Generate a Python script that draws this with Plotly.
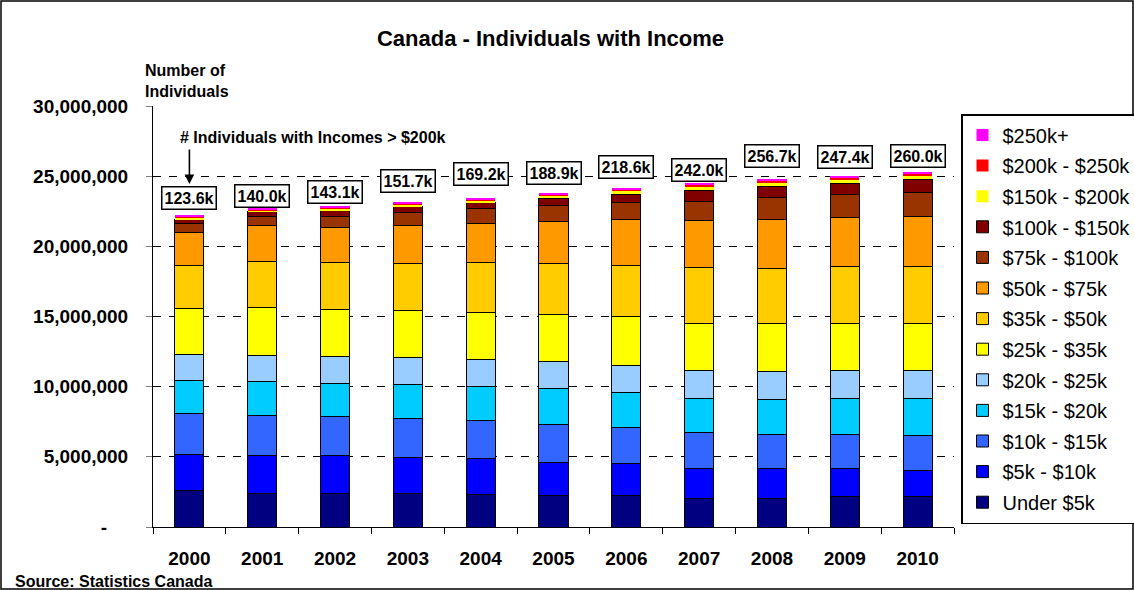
import plotly.graph_objects as go

years = ["2000", "2001", "2002", "2003", "2004", "2005", "2006", "2007", "2008", "2009", "2010"]

# Values in thousands of individuals
under_5k   = [2590, 2400, 2400, 2400, 2330, 2210, 2210, 2040, 2040, 2160, 2160]
k5_10      = [2610, 2730, 2660, 2540, 2540, 2400, 2330, 2140, 2140, 2020, 1900]
k10_15     = [2900, 2800, 2800, 2820, 2730, 2730, 2530, 2540, 2440, 2440, 2440]
k15_20     = [2370, 2470, 2370, 2430, 2440, 2540, 2520, 2440, 2470, 2540, 2660]
k20_25     = [1850, 1830, 1930, 1900, 1900, 1940, 1950, 2020, 2020, 2020, 2020]
k25_35     = [3260, 3440, 3340, 3320, 3370, 3350, 3440, 3350, 3370, 3350, 3350]
k35_50     = [3080, 3250, 3330, 3390, 3520, 3580, 3680, 3960, 3940, 4030, 4030]
k50_75     = [2340, 2540, 2540, 2700, 2820, 2990, 3230, 3350, 3490, 3520, 3590]
k75_100    = [630, 690, 760, 910, 1050, 1140, 1240, 1380, 1590, 1590, 1690]
k100_150   = [310, 310, 450, 410, 420, 560, 590, 760, 770, 830, 930]
k150_200   = [110, 120, 130, 150, 180, 200, 240, 270, 290, 280, 300]
k200_250   = [45.0, 50.5, 52.0, 55.2, 61.0, 67.5, 77.6, 85.5, 92.0, 90.8, 94.5]
k250_plus  = [78.6, 89.5, 91.1, 96.5, 108.2, 121.4, 141.0, 156.5, 164.7, 156.6, 165.5]

over_200k_labels = ["123.6k", "140.0k", "143.1k", "151.7k", "169.2k", "188.9k",
                    "218.6k", "242.0k", "256.7k", "247.4k", "260.0k"]

series_names = ["Under $5k", "$5k - $10k", "$10k - $15k", "$15k - $20k", "$20k - $25k",
                "$25k - $35k", "$35k - $50k", "$50k - $75k", "$75k - $100k",
                "$100k - $150k", "$150k - $200k", "$200k - $250k", "$250k+"]
series_values = [under_5k, k5_10, k10_15, k15_20, k20_25, k25_35, k35_50, k50_75,
                 k75_100, k100_150, k150_200, k200_250, k250_plus]

# styles
colors = ["#000080", "#0000FF", "#3366FF", "#00CCFF", "#99CCFF", "#FFFF00", "#FFCC00",
          "#FF9900", "#993300", "#800000", "#FFFF00", "#FF0000", "#FF00FF"]
outline = [1, 1, 1, 1, 1, 1, 1, 1, 1, 1, 0, 0, 0]
label_lift_px = [18, 12, 14, 22, 24, 20, 21, 13, 23, 19, 16]

FONT = "Liberation Sans, Arial, sans-serif"

fig = go.Figure()
n = len(series_names)
for i, (name, vals) in enumerate(zip(series_names, series_values)):
    fig.add_trace(go.Bar(
        x=years, y=[v * 1000 for v in vals], name=name,
        marker=dict(color=colors[i], line=dict(color="#000000", width=outline[i])),
        legendgroup=name, legendrank=n - i,
        hoverinfo="name+y",
    ))

totals = [sum(s[j] for s in series_values) * 1000 for j in range(len(years))]

annotations = []
for j, yr in enumerate(years):
    annotations.append(dict(
        x=j, y=totals[j], xref="x", yref="y", text=over_200k_labels[j], showarrow=False,
        yshift=label_lift_px[j], yanchor="middle",
        font=dict(family=FONT, size=16, color="#000000", weight="bold"),
        bgcolor="#FFFFFF", bordercolor="#000000", borderwidth=1.5, borderpad=2,
    ))

# plot area geometry (pixels)
L, R, T, B = 153, 954, 106, 527
W, H = R - L, B - T

def px_x(p):
    return (p - L) / W

def px_y(p):
    return (B - p) / H

annotations += [
    dict(x=px_x(143), y=px_y(81), xref="paper", yref="paper", xanchor="left", yanchor="middle",
         align="left", showarrow=False, text="Number of<br>Individuals",
         font=dict(family=FONT, size=16, color="#000000", weight="bold")),
    dict(x=px_x(178), y=px_y(137), xref="paper", yref="paper", xanchor="left", yanchor="middle",
         showarrow=False, text="# Individuals with Incomes > $200k",
         font=dict(family=FONT, size=16, color="#000000", weight="bold")),
    dict(x=0, y=px_y(184), xref="x", yref="paper", text="", showarrow=True,
         ax=0, ay=-36, arrowhead=2, arrowsize=1.2, arrowwidth=1.6, arrowcolor="#000000"),
    dict(x=px_x(13), y=px_y(581), xref="paper", yref="paper", xanchor="left", yanchor="middle",
         showarrow=False, text="Source: Statistics Canada",
         font=dict(family=FONT, size=16, color="#000000", weight="bold")),
]

fig.update_layout(
    width=1134, height=590,
    margin=dict(l=L, r=1134 - R, t=T, b=590 - B, pad=0, autoexpand=False),
    paper_bgcolor="#FFFFFF", plot_bgcolor="#FFFFFF",
    barmode="stack", bargap=0.6,
    font=dict(family=FONT, color="#000000"),
    title=dict(text="<b>Canada - Individuals with Income</b>", x=550.5 / 1134, xref="container",
               xanchor="center", y=1 - 38 / 590, yref="container", yanchor="middle",
               font=dict(family=FONT, size=22, color="#000000")),
    xaxis=dict(
        type="category", range=[-0.5, 10.5], automargin=False,
        showline=True, linecolor="#000000", linewidth=1,
        ticks="outside", tickson="boundaries", ticklen=6, tickcolor="#000000",
        tickfont=dict(family=FONT, size=19, color="#000000", weight="bold"),
        ticklabelstandoff=14, showgrid=False, tickangle=0,
    ),
    yaxis=dict(
        range=[0, 30000000], automargin=False,
        showline=True, linecolor="#000000", linewidth=1,
        tickvals=[0, 5e6, 10e6, 15e6, 20e6, 25e6, 30e6],
        ticktext=["-\u00a0\u00a0\u00a0\u00a0", "5,000,000", "10,000,000", "15,000,000",
                  "20,000,000", "25,000,000", "30,000,000"],
        ticks="outside", ticklen=6, tickcolor="#808080",
        tickfont=dict(family=FONT, size=19, color="#000000", weight="bold"),
        ticklabelstandoff=14,
        showgrid=True, gridcolor="#000000", gridwidth=1, griddash="8px,8px",
        zeroline=False,
    ),
    legend=dict(
        x=px_x(961), y=px_y(114), xanchor="left", yanchor="top",
        bgcolor="#FFFFFF", bordercolor="#000000", borderwidth=1.5,
        font=dict(family=FONT, size=20, color="#000000"),
        traceorder="grouped", tracegroupgap=1.6, itemwidth=30,
    ),
    annotations=annotations,
    shapes=[dict(type="rect", xref="paper", yref="paper",
                 x0=px_x(1), x1=px_x(1133), y0=px_y(589), y1=px_y(1),
                 line=dict(color="#000000", width=1.5), fillcolor="rgba(0,0,0,0)", layer="below")],
)

fig.write_html("out.html")
